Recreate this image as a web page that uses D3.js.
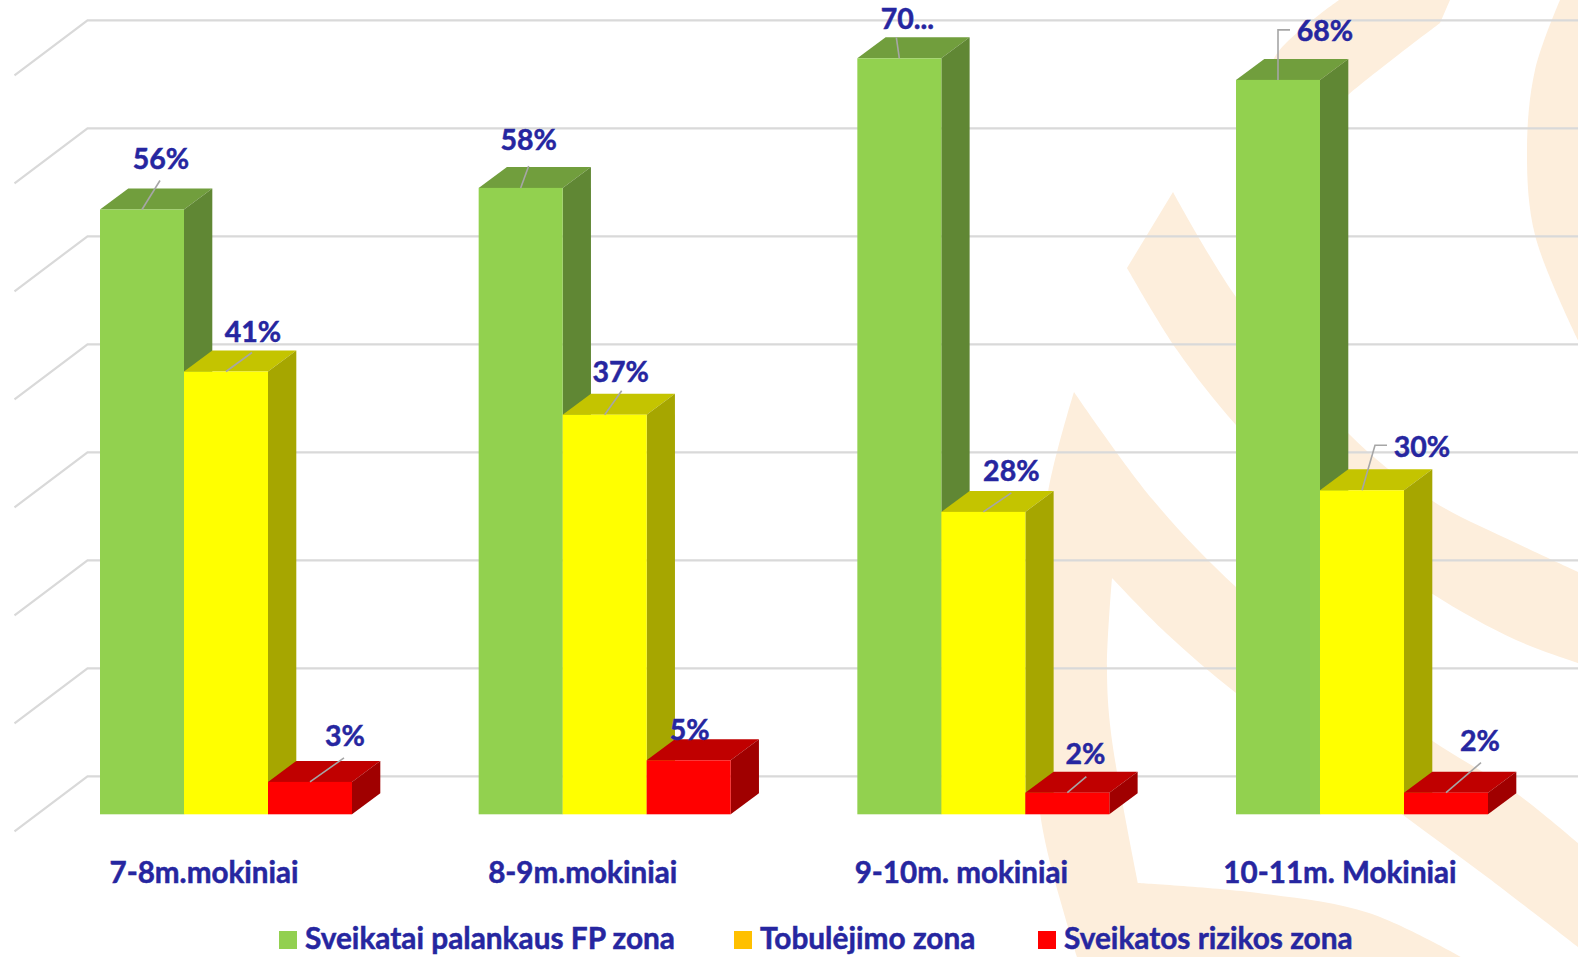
<!DOCTYPE html>
<html lang="lt">
<head>
<meta charset="utf-8">
<title>Fizinio pasirengimo zonos</title>
<script src="https://cdn.jsdelivr.net/npm/d3@7/dist/d3.min.js"></script>
<style>
  html, body { margin: 0; padding: 0; background: #fff; overflow: hidden; }
  svg { display: block; }
  text { font-family: Lato, "Open Sans", sans-serif; font-weight: 700; fill: #2626a0; stroke: #2626a0; stroke-width: 0.5px; }
</style>
</head>
<body>
<svg id="chart" width="1578" height="957"></svg>
<script>
// Chart values, in percent
const categories = ["7-8m.mokiniai", "8-9m.mokiniai", "9-10m. mokiniai", "10-11m. Mokiniai"];
const seriesNames = ["Sveikatai palankaus FP zona", "Tobulėjimo zona", "Sveikatos rizikos zona"];
const healthyZone = [56, 58, 70, 68];
const improvementZone = [41, 37, 28, 30];
const riskZone = [3, 5, 2, 2];
const gridTicks = [0, 10, 20, 30, 40, 50, 60, 70];
const labelTexts = [
  ["56%", "58%", "70...", "68%"],
  ["41%", "37%", "28%", "30%"],
  ["3%", "5%", "2%", "2%"]
];

// Face colours per series: front, top, side, legend swatch
const palette = [
  { front: "#92d14f", top: "#719e3d", side: "#608734", key: "#92d050" },
  { front: "#ffff00", top: "#c4c400", side: "#a6a600", key: "#ffc000" },
  { front: "#ff0000", top: "#c00000", side: "#a00000", key: "#ff0000" }
];

// Label anchor relative to the bar's top-front centre, and its leader line.
// Each entry: [label dx, baseline dy, leader points relative to the same anchor]
const labelLayout = [
  [
    [19, -41, [[0, 0], [18, -29]]],
    [8, -38, [[0, 0], [8, -22]]],
    [8, -29, [[0, 0], [-3, -21]]],
    [47, -39, [[0, 0], [0, -50], [12, -50]]]
  ],
  [
    [27, -30, [[0, 0], [26, -19]]],
    [16, -33, [[0, 0], [17, -24]]],
    [28, -31, [[0, 0], [28, -19]]],
    [60, -33, [[0, 0], [13, -45], [25, -45]]]
  ],
  [
    [35, -36, [[0, 0], [34, -24]]],
    [1, -20, []],
    [18, -29, [[0, 0], [19, -16]]],
    [34, -42, [[0, 0], [35, -30]]]
  ]
];

const width = 1578, height = 957;
const svg = d3.select("#chart");

// Pale logo shapes behind the plot; each list of runs is one closed outline with sharp joins
const smooth = d3.line().curve(d3.curveCatmullRom.alpha(0.5));
const outline = runs => runs.map((r, i) => {
  const d = smooth(r);
  return i === 0 ? d : "L" + d.slice(1);
}).join("") + "Z";

const logoShapes = [
  [[[1339, 0], [1276, 55], [1262, 100]], [[1262, 100], [1300, 140], [1348, 95], [1440, 23]], [[1440, 23], [1450, 0]]],
  [[[1560, 0], [1535, 70], [1527, 150], [1535, 235], [1578, 340]], [[1578, 340], [1578, 0]]],
  [
    [[1173, 192], [1236, 297], [1348, 433], [1431, 500], [1516, 543], [1578, 572]],
    [[1578, 572], [1578, 663]],
    [[1578, 663], [1516, 640], [1431, 593], [1330, 520], [1236, 425], [1177, 350], [1127, 268]],
    [[1127, 268], [1173, 192]]
  ],
  [
    [[1074, 392], [1153, 500], [1236, 587], [1340, 672], [1431, 740], [1516, 793], [1578, 843]],
    [[1578, 843], [1578, 947]],
    [[1578, 947], [1487, 877], [1403, 815], [1320, 752], [1236, 693], [1166, 633], [1112, 578]],
    [[1112, 578], [1107, 667], [1111, 733], [1138, 883]],
    [[1138, 883], [1258, 893], [1369, 913], [1461, 957]],
    [[1461, 957], [1077, 957]],
    [[1077, 957], [1068, 927], [1040, 813], [1034, 650], [1048, 493], [1074, 392]]
  ]
];
svg.append("g").selectAll("path").data(logoShapes).join("path")
  .attr("d", outline).attr("fill", "#fdeedc");

// Scales: value axis shared by the bars and the gridlines
const baseY = 814.3, unit = 10.8;
const y = d3.scaleLinear().domain([0, 70]).range([baseY, baseY - 70 * unit]);
const x0 = d3.scaleBand().domain(categories).range([100, 1488]).paddingInner(0.3345).paddingOuter(0);
const x1 = d3.scaleBand().domain(d3.range(3)).range([0, x0.bandwidth()]);

// Oblique projection offsets: bar depth, and gridline wall geometry
const depth = { dx: 28.3, dy: -21 };
const wallLift = 38;
const wall = { left: 87.5, floorDx: -73, floorDy: 55 };

// Gridlines along the back wall and down the side wall
const grid = svg.append("g").attr("fill", "none").attr("stroke", "#d9d9d9").attr("stroke-width", 2.2);
grid.selectAll("path").data(gridTicks).join("path")
  .attr("d", t => {
    const gy = y(t) - wallLift;
    return `M${wall.left + wall.floorDx},${gy + wall.floorDy}L${wall.left},${gy}L${width},${gy}`;
  });

// Bars as three visible box faces
const allSeries = [healthyZone, improvementZone, riskZone];
const bars = svg.append("g");
categories.forEach((cat, c) => {
  allSeries.forEach((values, s) => {
    const left = x0(cat) + x1(s), w = x1.bandwidth();
    const topY = y(values[c]), right = left + w;
    const g = bars.append("g");
    g.append("path").attr("fill", palette[s].top)
      .attr("d", `M${left},${topY}L${left + depth.dx},${topY + depth.dy}L${right + depth.dx},${topY + depth.dy}L${right},${topY}Z`);
    g.append("path").attr("fill", palette[s].side)
      .attr("d", `M${right},${topY}L${right + depth.dx},${topY + depth.dy}L${right + depth.dx},${y(0) + depth.dy}L${right},${y(0)}Z`);
    g.append("rect").attr("x", left).attr("y", topY).attr("width", w).attr("height", y(0) - topY)
      .attr("fill", palette[s].front);
  });
});

// Leader lines and value labels
const labels = svg.append("g");
const linkPath = d3.line();
categories.forEach((cat, c) => {
  allSeries.forEach((values, s) => {
    const ax = x0(cat) + x1(s) + x1.bandwidth() / 2, ay = y(values[c]);
    const [dx, dy, leader] = labelLayout[s][c];
    if (leader.length) {
      labels.append("path").attr("fill", "none").attr("stroke", "#a6a6a6").attr("stroke-width", 1.6)
        .attr("d", linkPath(leader.map(p => [ax + p[0], ay + p[1]])));
    }
    labels.append("text").attr("x", ax + dx).attr("y", ay + dy)
      .attr("text-anchor", "middle").attr("font-size", 28.5).text(labelTexts[s][c]);
  });
});

// Category names under each group
svg.append("g").selectAll("text").data(categories).join("text")
  .attr("x", d => x0(d) + 104).attr("y", 882.5)
  .attr("text-anchor", "middle").attr("font-size", 29.6).text(d => d);

// Legend
const legendX = [279, 734, 1038];
const legend = svg.append("g").selectAll("g").data(seriesNames).join("g")
  .attr("transform", (d, i) => `translate(${legendX[i]},931)`);
legend.append("rect").attr("width", 18).attr("height", 18).attr("fill", (d, i) => palette[i].key);
legend.append("text").attr("x", 26).attr("y", 18).attr("font-size", 29.8).text(d => d);
</script>
</body>
</html>
